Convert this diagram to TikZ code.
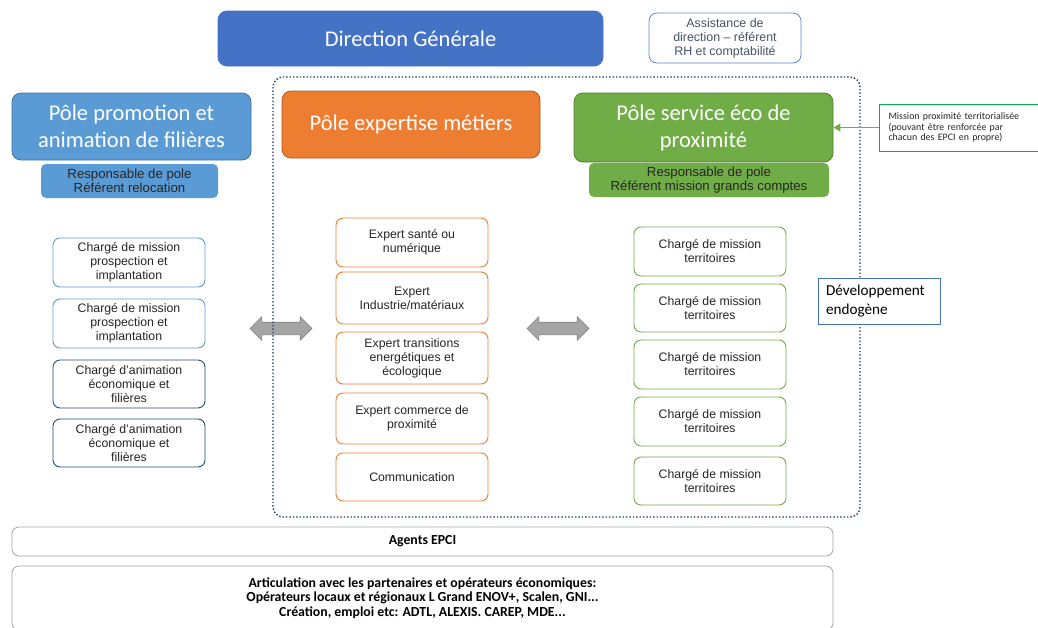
\documentclass[tikz,border=0pt]{standalone}
\usepackage{fontspec}
\setmainfont{Liberation Sans}
\newfontfamily\calfont{Carlito}
\newfontfamily\arifont{Liberation Sans}
\usetikzlibrary{shapes.arrows,arrows.meta}
\definecolor{dgblue}{HTML}{4472C4}
\definecolor{promoblue}{HTML}{5B9BD5}
\definecolor{promoedge}{HTML}{41719C}
\definecolor{orangef}{HTML}{ED7D31}
\definecolor{orangeedge}{HTML}{AE5A21}
\definecolor{greenf}{HTML}{70AD47}
\definecolor{greenedge}{HTML}{507E32}
\definecolor{navy}{HTML}{1F4E79}
\definecolor{dotnavy}{HTML}{203864}
\definecolor{assisttext}{HTML}{44546A}
\definecolor{brightgreen}{HTML}{00B050}
\definecolor{txt}{HTML}{262626}
\definecolor{arrowgray}{HTML}{A5A5A5}
\definecolor{arrowedge}{HTML}{7F7F7F}
\begin{document}
\begin{tikzpicture}[x=1pt,y=-1pt,
  title/.style={rounded corners=9pt, line width=0.8pt, inner sep=0pt, align=center,
    text=white, font=\calfont\fontsize{22.5}{27}\selectfont},
  resp/.style={rounded corners=5pt, inner sep=0pt, align=center, text=txt,
    font=\arifont\fontsize{13.2}{14}\selectfont},
  small/.style={rounded corners=7pt, line width=0.9pt, fill=white, inner sep=0pt, align=center,
    text=txt, minimum width=152pt, font=\arifont\fontsize{12.3}{14}\selectfont},
  bluebox/.style={small, draw=promoblue},
  navybox/.style={small, draw=navy},
  orangebox/.style={small, draw=orangef},
  greenbox/.style={small, draw=greenf},
  grayarrow/.style={double arrow, fill=arrowgray, draw=arrowedge, line width=0.6pt,
    inner sep=6pt, double arrow head extend=5.5pt, minimum height=62pt, double arrow tip angle=90},
  bottombox/.style={rounded corners=7pt, draw=arrowgray, line width=0.8pt, fill=white,
    inner sep=0pt, align=center, minimum width=821pt, text=black,
    font=\calfont\bfseries\fontsize{13.8}{14.5}\selectfont}
]
\useasboundingbox (0,0) rectangle (1038,627);
\fill[white] (0,0) rectangle (1038,627);

% gray double arrows
\node[grayarrow] (arrL) at (281,328.5) {};
\node[grayarrow] (arrR) at (558,328.5) {};

% dotted container
\draw[dotnavy, dotted, line width=1.4pt, rounded corners=10pt] (273,77) rectangle (860,517);

% top
\node[title, fill=dgblue, draw=dgblue, minimum width=385pt, minimum height=55pt] (dg) at (410.5,38.5) {Direction Générale};
\node[rounded corners=8pt, draw=dgblue!85!white, line width=0.8pt, fill=white, inner sep=0pt,
  minimum width=152pt, minimum height=50pt, align=center, text=assisttext,
  font=\arifont\fontsize{12.4}{14}\selectfont] (assist) at (725,38) {Assistance de\\direction – référent\\RH et comptabilité};

% poles
\node[title, fill=promoblue, draw=promoedge, minimum width=239pt, minimum height=67pt] (promo) at (131.5,126.5) {Pôle promotion et\\animation de filières};
\node[resp, fill=promoblue, minimum width=177pt, minimum height=34pt] (resp1) at (129.5,181) {Responsable de pole\\Référent relocation};

\node[title, fill=orangef, draw=orangeedge, minimum width=258pt, minimum height=67pt] (expert) at (411,124.5) {Pôle expertise métiers};

\node[title, fill=greenf, draw=greenedge, minimum width=259pt, minimum height=69pt] (service) at (703.5,127.5) {Pôle service éco de\\proximité};
\node[resp, fill=greenf, minimum width=240pt, minimum height=34pt] (resp2) at (709,180) {Responsable de pole\\Référent mission grands comptes};

% mission box
\node[draw=brightgreen, line width=0.8pt, fill=white, inner sep=0pt, minimum width=159pt, minimum height=47pt,
  text width=140pt, align=left, text=txt, font=\calfont\fontsize{9.9}{10.5}\selectfont] (mission) at (958.5,127.5)
  {Mission proximité territorialisée\\(pouvant être renforcée par\\chacun des EPCI en propre)};
\draw[greenf, line width=1.2pt, -{Triangle[length=7pt,width=8pt]}] (mission.west) -- (service.east);

% left column
\node[bluebox, minimum height=49pt] (l1) at (129,262.5) {Chargé de mission\\prospection et\\implantation};
\node[bluebox, minimum height=49pt] (l2) at (129,323.5) {Chargé de mission\\prospection et\\implantation};
\node[navybox, minimum height=48pt] (l3) at (129,384) {Chargé d’animation\\économique et\\filières};
\node[navybox, minimum height=48pt] (l4) at (129,443) {Chargé d’animation\\économique et\\filières};

% orange column
\node[orangebox, minimum height=49pt] (o1) at (412,242.5) {Expert santé ou\\numérique};
\node[orangebox, minimum height=52pt] (o2) at (412,298) {Expert\\Industrie/matériaux};
\node[orangebox, minimum height=52pt] (o3) at (412,358) {Expert transitions\\energétiques et\\écologique};
\node[orangebox, minimum height=51pt] (o4) at (412,418.5) {Expert commerce de\\proximité};
\node[orangebox, minimum height=48pt] (o5) at (412,477) {Communication};

% green column
\node[greenbox, minimum height=49pt] (g1) at (710,251.5) {Chargé de mission\\territoires};
\node[greenbox, minimum height=48pt] (g2) at (710,308) {Chargé de mission\\territoires};
\node[greenbox, minimum height=49pt] (g3) at (710,364.5) {Chargé de mission\\territoires};
\node[greenbox, minimum height=49pt] (g4) at (710,421.5) {Chargé de mission\\territoires};
\node[greenbox, minimum height=48pt] (g5) at (710,481) {Chargé de mission\\territoires};

% développement endogène
\node[draw=dgblue, line width=1pt, fill=white, inner sep=0pt, minimum width=122pt, minimum height=46pt,
  text width=106pt, align=left, text=black, font=\calfont\fontsize{15.2}{19}\selectfont] (dev) at (879,301)
  {Développement\\endogène};

% bottom
\node[bottombox, minimum height=29pt] (agents) at (422.5,541.5) {Agents EPCI};
\node[bottombox, minimum height=64pt] (artic) at (422.5,598) {Articulation avec les partenaires et opérateurs économiques:\\Opérateurs locaux et régionaux L Grand ENOV+, Scalen, GNI...\\Création, emploi etc: ADTL, ALEXIS. CAREP, MDE...};
\end{tikzpicture}
\end{document}
